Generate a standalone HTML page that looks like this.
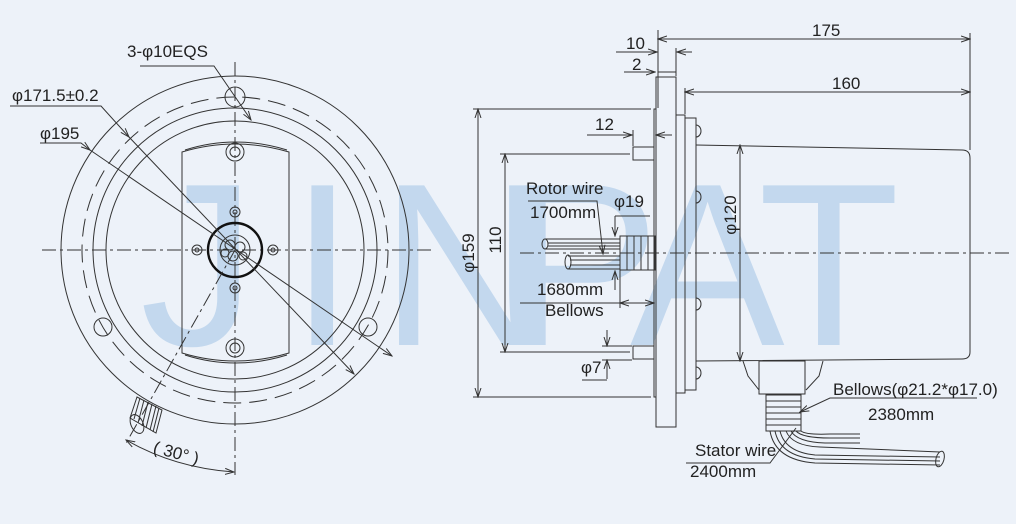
<!DOCTYPE html>
<html><head><meta charset="utf-8"><style>
html,body{margin:0;padding:0;background:#edf2f9;}
svg{display:block;}
text{font-family:"Liberation Sans","DejaVu Sans",sans-serif;font-size:17px;fill:#222;}
.l{stroke:#333;stroke-width:1;fill:none;}
.t{stroke:#111;stroke-width:2.4;fill:none;}
.d{stroke:#333;stroke-width:1;fill:none;stroke-dasharray:14 4 3 4;}
.dd{stroke:#333;stroke-width:1;fill:none;stroke-dasharray:18 8;}
.w{font-size:232px;fill:#c3d8ee;}
</style></head><body>
<svg width="1016" height="524" viewBox="0 0 1016 524" xmlns="http://www.w3.org/2000/svg">
<defs><marker id="a" markerWidth="10" markerHeight="8" refX="9" refY="4" orient="auto-start-reverse" markerUnits="userSpaceOnUse"><path d="M0,1 L9,4 L0,7" fill="none" stroke="#333" stroke-width="1"/></marker></defs>
<rect width="1016" height="524" fill="#edf2f9"/>
<g class="w">
<text class="w" x="140" y="345">J</text>
<text class="w" x="290" y="345" textLength="60">I</text>
<text class="w" x="380" y="345">N</text>
<text class="w" x="505" y="345">P</text>
<text class="w" x="630" y="345">A</text>
<text class="w" x="758" y="345">T</text>
</g>
<!-- LEFT VIEW -->
<line class="d" x1="42" y1="250" x2="432" y2="250"/>
<line class="d" x1="235" y1="62" x2="235" y2="475"/>
<circle class="l" cx="235" cy="250" r="174"/>
<circle class="dd" cx="235" cy="250" r="153"/>
<circle class="l" cx="235" cy="250" r="142"/>
<circle class="l" cx="235" cy="250" r="129"/>
<path class="l" d="M182,152 Q235,136 289,152 L289,353 Q235,369 182,353 Z"/>
<path class="l" d="M185,150 Q235,134 287,150"/>
<path class="l" d="M185,355 Q235,371 287,355"/>
<circle class="l" cx="235" cy="97" r="10"/>
<circle class="l" cx="103" cy="327" r="9"/>
<circle class="l" cx="368" cy="327" r="9"/>
<g class="l"><circle cx="235" cy="152" r="9"/><circle cx="235" cy="152" r="5"/><circle cx="235" cy="348" r="9"/><circle cx="235" cy="348" r="5"/>
<circle cx="235" cy="212" r="5"/><circle cx="235" cy="212" r="2"/><circle cx="235" cy="288" r="5"/><circle cx="235" cy="288" r="2"/>
<circle cx="197" cy="250" r="5"/><circle cx="197" cy="250" r="2"/><circle cx="273" cy="250" r="5"/><circle cx="273" cy="250" r="2"/>
<circle cx="235" cy="250" r="15"/><circle cx="230" cy="245" r="5"/><circle cx="240" cy="247" r="5"/><circle cx="233" cy="256" r="5"/><circle cx="243" cy="256" r="4"/><circle cx="225" cy="253" r="4"/></g>
<circle class="t" cx="235" cy="250" r="27"/>
<g class="l"><path d="M130,418 L137,397 L162,410 L156,433 Z"/><ellipse cx="137" cy="424" rx="6" ry="10" transform="rotate(-25 137 424)"/>
<line x1="140" y1="398" x2="134" y2="419"/><line x1="144" y1="400" x2="138" y2="423"/><line x1="148" y1="402" x2="142" y2="426"/><line x1="152" y1="404" x2="146" y2="428"/><line x1="156" y1="406" x2="150" y2="430"/><line x1="159" y1="408" x2="153" y2="432"/></g>
<line class="d" x1="235" y1="250" x2="125" y2="445"/>
<path class="l" d="M126,440 Q175,468 234,472" marker-start="url(#a)" marker-end="url(#a)"/>
<text x="153" y="457" transform="rotate(15 170 452)">( 30° )</text>
<text x="127" y="57">3-φ10EQS</text>
<path class="l" d="M140,66 L214,66 L251,120" marker-end="url(#a)"/>
<text x="12" y="101">φ171.5±0.2</text>
<path class="l" d="M10,106 L101,106 L129,137" marker-end="url(#a)"/>
<line class="l" x1="129" y1="137" x2="354" y2="374" marker-end="url(#a)"/>
<text x="40" y="139">φ195</text>
<path class="l" d="M40,143 L81,143 L90,150" marker-end="url(#a)"/>
<line class="l" x1="90" y1="150" x2="392" y2="356" marker-end="url(#a)"/>
<!-- RIGHT VIEW -->
<line class="d" x1="520" y1="253" x2="1010" y2="253"/>
<rect class="l" x="656" y="77" width="20" height="350"/>
<rect class="l" x="654" y="109" width="2" height="288"/>
<rect class="l" x="676" y="115" width="9" height="278"/>
<rect class="l" x="685" y="118" width="11" height="272"/>
<path class="l" d="M696,145 L962,150 Q970,150 970,158 L970,352 Q970,359 962,359 L696,361"/>
<g class="l"><path d="M696,125 A5,6 0 0 1 696,137"/><path d="M696,191 A5,6 0 0 1 696,203"/><path d="M696,298 A5,6 0 0 1 696,310"/><path d="M696,367 A5,6 0 0 1 696,379"/></g>
<rect class="l" x="633" y="147" width="21" height="13"/>
<rect class="l" x="633" y="346" width="21" height="13"/>
<g class="l"><path d="M743,361 L748,376 L759,390 M823,361 L819,376 L806,390"/><rect x="759" y="361" width="46" height="33"/>
<path d="M766,395 h35 v36 h-35 z M766,401 h35 M766,407 h35 M766,413 h35 M766,419 h35 M766,425 h35"/>
<path d="M770,431 Q775,460 815,463 L940,465"/><path d="M775,431 Q780,456 815,459 L940,461"/><path d="M780,431 Q785,452 815,455 L940,457"/><path d="M786,431 Q792,446 820,447 L940,452"/><path d="M791,431 Q797,442 825,443 L860,443"/><path d="M796,431 Q802,438 830,438 L860,438"/><path d="M801,431 Q806,435 830,434 L860,434"/><ellipse cx="940" cy="459" rx="4" ry="8" transform="rotate(15 940 459)"/></g>
<g class="l"><path d="M620,236 h35 v34 h-35 z M627,236 v34 M634,236 v34 M641,236 v34 M648,236 v34"/>
<path d="M545,239 L620,239 M545,249 L620,249 M568,256 L620,256 M568,269 L620,269"/><ellipse cx="545" cy="244" rx="3" ry="5"/><ellipse cx="568" cy="262" rx="3" ry="7"/>
<line x1="548" y1="243" x2="620" y2="243"/><line x1="548" y1="246" x2="620" y2="246"/><line x1="570" y1="260" x2="620" y2="260"/><line x1="570" y1="265" x2="620" y2="265"/></g>
<g class="l">
<line x1="658" y1="30" x2="658" y2="108"/><line x1="970" y1="33" x2="970" y2="150"/>
<line x1="658" y1="39" x2="970" y2="39" marker-start="url(#a)" marker-end="url(#a)"/>
<line x1="616" y1="52" x2="657" y2="52" marker-end="url(#a)"/><line x1="692" y1="52" x2="677" y2="52" marker-end="url(#a)"/><line x1="676" y1="48" x2="676" y2="76"/>
<line x1="624" y1="72" x2="655" y2="72" marker-end="url(#a)"/><line x1="676" y1="72" x2="658" y2="72"/>
<line x1="685" y1="88" x2="685" y2="114"/><line x1="685" y1="92" x2="970" y2="92" marker-start="url(#a)" marker-end="url(#a)"/>
<line x1="473" y1="109" x2="651" y2="109"/><line x1="473" y1="397" x2="651" y2="397"/>
<line x1="478" y1="109" x2="478" y2="397" marker-start="url(#a)" marker-end="url(#a)"/>
<line x1="500" y1="154" x2="630" y2="154"/><line x1="500" y1="352" x2="630" y2="352"/>
<line x1="505" y1="154" x2="505" y2="352" marker-start="url(#a)" marker-end="url(#a)"/>
<line x1="740" y1="145" x2="740" y2="361" marker-start="url(#a)" marker-end="url(#a)"/>
<line x1="587" y1="135" x2="632" y2="135" marker-end="url(#a)"/><line x1="672" y1="135" x2="656" y2="135" marker-end="url(#a)"/><line x1="633" y1="130" x2="633" y2="146"/>
<path d="M528,201 L597,201 L603,254" marker-end="url(#a)"/>
<line x1="615" y1="216" x2="650" y2="216"/><line x1="615" y1="216" x2="615" y2="236" marker-end="url(#a)"/><line x1="615" y1="290" x2="615" y2="271" marker-end="url(#a)"/><line x1="615" y1="271" x2="615" y2="290"/>
<line x1="520" y1="303" x2="620" y2="303"/><line x1="620" y1="270" x2="620" y2="308"/><line x1="620" y1="303" x2="654" y2="303" marker-start="url(#a)" marker-end="url(#a)"/>
<line x1="607" y1="330" x2="607" y2="346" marker-end="url(#a)"/><line x1="607" y1="379" x2="607" y2="360" marker-end="url(#a)"/><line x1="602" y1="346" x2="632" y2="346"/><line x1="602" y1="360" x2="632" y2="360"/>
<line x1="582" y1="380" x2="607" y2="380"/>
<path d="M977,398 L830,398 L800,412" marker-end="url(#a)"/>
<path d="M686,463 L770,463 L796,428"/>
</g>
<text x="812" y="36">175</text><text x="626" y="49">10</text><text x="632" y="70">2</text><text x="832" y="89">160</text>
<text x="595" y="130">12</text><text x="614" y="207">φ19</text>
<text x="526" y="194">Rotor wire</text><text x="530" y="218">1700mm</text>
<text x="537" y="295">1680mm</text><text x="545" y="316">Bellows</text><text x="581" y="373">φ7</text>
<text transform="translate(474,253) rotate(-90)" text-anchor="middle">φ159</text>
<text transform="translate(501,240) rotate(-90)" text-anchor="middle">110</text>
<text transform="translate(736,215) rotate(-90)" text-anchor="middle">φ120</text>
<text x="833" y="395">Bellows(φ21.2*φ17.0)</text><text x="868" y="420">2380mm</text>
<text x="695" y="456">Stator wire</text><text x="690" y="477">2400mm</text>
</svg>
</body></html>
